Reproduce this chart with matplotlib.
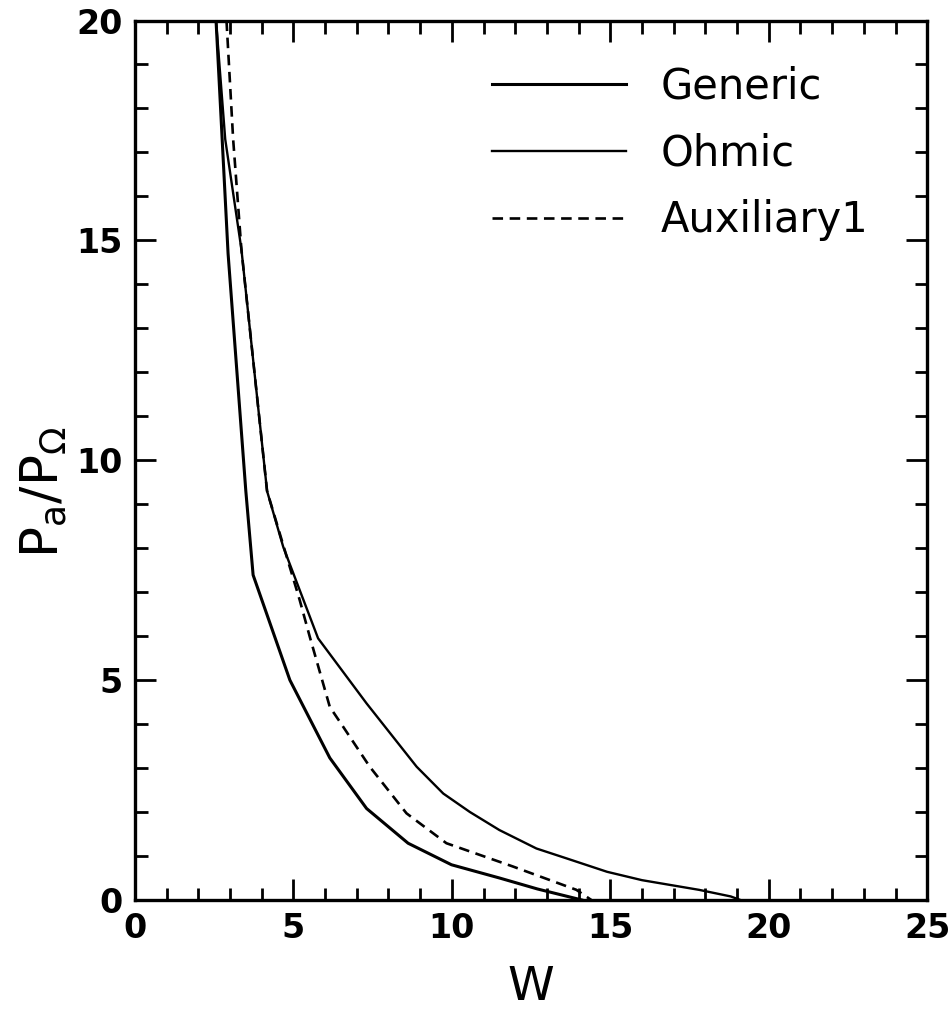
import matplotlib.pyplot as plt
from matplotlib.ticker import MultipleLocator

# power ratio curves vs W
generic_w = [2.56, 2.94, 3.50, 3.73, 4.89, 6.15, 7.31, 8.62, 9.99, 11.5, 12.7, 14.1]
generic_p = [20.0, 14.7, 9.3, 7.39, 5.0, 3.23, 2.08, 1.29, 0.80, 0.50, 0.25, 0.0]

ohmic_w = [2.56, 2.85, 3.36, 4.17, 4.68, 5.78, 7.31, 8.89, 9.73, 10.57, 11.5,
           12.67, 13.6, 14.9, 16.0, 16.9, 17.8, 18.8, 19.1]
ohmic_p = [20.0, 17.3, 14.8, 9.3, 8.03, 5.95, 4.47, 3.03, 2.42, 2.0, 1.59,
           1.17, 0.95, 0.64, 0.45, 0.34, 0.23, 0.08, 0.0]

aux_w = [2.89, 3.10, 3.36, 4.17, 4.73, 5.2, 5.52, 6.15, 6.57, 7.41, 8.57,
         9.83, 11.93, 13.93, 14.4]
aux_p = [20.0, 17.3, 14.8, 9.3, 7.95, 6.82, 5.98, 4.39, 3.94, 3.03, 1.97,
         1.29, 0.76, 0.23, 0.0]

fig = plt.figure(figsize=(9.5, 10.25), dpi=100)
ax = fig.add_axes([0.142, 0.122, 0.834, 0.858])

ax.plot(generic_w, generic_p, color='black', lw=2.2, label='Generic')
ax.plot(ohmic_w, ohmic_p, color='black', lw=1.7, label='Ohmic')
ax.plot(aux_w, aux_p, color='black', lw=1.9, ls=(0, (4, 2.5)), label='Auxiliary1')

ax.set_xlim(0, 25)
ax.set_ylim(0, 20)
ax.xaxis.set_major_locator(MultipleLocator(5))
ax.xaxis.set_minor_locator(MultipleLocator(1))
ax.yaxis.set_major_locator(MultipleLocator(5))
ax.yaxis.set_minor_locator(MultipleLocator(1))
ax.tick_params(which='both', direction='in', top=True, right=True, width=2)
ax.tick_params(which='major', length=15, labelsize=24, pad=9)
ax.tick_params(which='minor', length=9)
for lbl in ax.get_xticklabels() + ax.get_yticklabels():
    lbl.set_fontweight('bold')
for sp in ax.spines.values():
    sp.set_linewidth(2.4)

ax.set_xlabel('W', fontsize=34)
ax.xaxis.set_label_coords(0.5, -0.074)
ax.set_ylabel(r'P$_{\mathrm{a}}$/P$_{\Omega}$', fontsize=37)
ax.yaxis.set_label_coords(-0.083, 0.464)

leg = ax.legend(loc='upper right', bbox_to_anchor=(0.947, 0.968), frameon=False,
                fontsize=30, handlelength=3.2, handletextpad=0.84,
                labelspacing=0.6, borderaxespad=0)

fig.savefig('out.png', dpi=100)
